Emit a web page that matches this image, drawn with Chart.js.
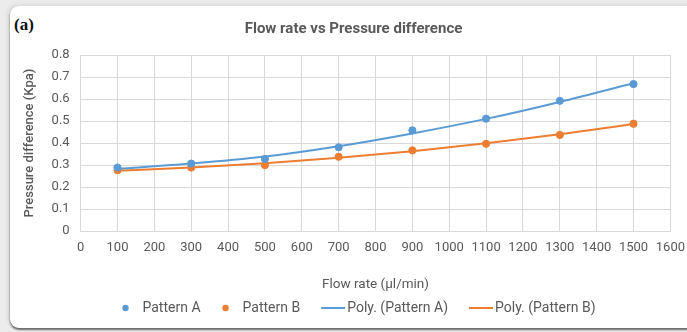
<!DOCTYPE html>
<html>
<head>
<meta charset="utf-8">
<script src="https://cdn.jsdelivr.net/npm/chart.js@4"></script>
<style>
  html, body { margin: 0; padding: 0; background: #ececec; }
  body { width: 687px; height: 332px; position: relative; overflow: hidden; }
  #card {
    position: absolute; left: 10px; top: 6px; width: 700px; height: 322px;
    background: #ffffff; border-radius: 9px;
    box-shadow: -2px -1px 4px rgba(0,0,0,0.10), 0 2px 2px rgba(0,0,0,0.55);
  }
  #tag {
    position: absolute; left: 14px; top: 15px;
    font-family: "Liberation Serif", "DejaVu Serif", serif; font-weight: bold; font-size: 17px; color: #111;
  }
  #wrap { position: absolute; left: 0; top: 0; width: 687px; height: 332px; }
</style>
</head>
<body>
<div id="card"></div>
<div id="tag">(a)</div>
<div id="wrap"><canvas id="c" width="687" height="332"></canvas></div>
<script>
// Flow rate (µl/min) at which each pattern was measured
const flowRates = [100, 300, 500, 700, 900, 1100, 1300, 1500];
// Measured pressure difference (Kpa)
const patternA = [0.289, 0.307, 0.328, 0.381, 0.458, 0.511, 0.592, 0.668];
const patternB = [0.277, 0.289, 0.300, 0.338, 0.367, 0.397, 0.437, 0.488];
// Second-order polynomial trendlines at the same flow rates
const polyA = [0.283, 0.307, 0.339, 0.386, 0.444, 0.510, 0.587, 0.672];
const polyB = [0.275, 0.289, 0.308, 0.333, 0.363, 0.399, 0.440, 0.487];

const xTicks = [0, 100, 200, 300, 400, 500, 600, 700, 800, 900, 1000, 1100, 1200, 1300, 1400, 1500, 1600];
const yTicks = [0, 0.1, 0.2, 0.3, 0.4, 0.5, 0.6, 0.7, 0.8];

const BLUE = '#5b9bd5';
const ORANGE = '#ed7d31';
const TEXT = '#595959';
const GRID = '#d9d9d9';
const FONT = 'Roboto, "Open Sans", sans-serif';

const pts = (ys) => flowRates.map((x, i) => ({ x, y: ys[i] }));

// Legend row under the axis title: round dots for the measured series,
// short strokes for the trendlines, laid out from the measured text widths.
const keyRow = {
  id: 'keyRow',
  afterDraw(chart) {
    const ctx = chart.ctx;
    const items = chart.data.datasets.map(ds => ({ text: ds.label, color: ds.borderColor, line: ds.showLine }));
    ctx.save();
    ctx.font = '14px ' + FONT;
    ctx.textBaseline = 'middle';
    const markW = (it) => (it.line ? 24 + 2 : 8 + 13);
    const widths = items.map(it => markW(it) + ctx.measureText(it.text).width);
    const gap = 21;
    const total = widths.reduce((a, b) => a + b, 0) + gap * (items.length - 1);
    const centre = (chart.chartArea.left + chart.chartArea.right) / 2 - 17;
    let x = centre - total / 2;
    const y = chart.height - 24;
    items.forEach((it, i) => {
      if (it.line) {
        ctx.strokeStyle = it.color; ctx.lineWidth = 2;
        ctx.beginPath(); ctx.moveTo(x, y); ctx.lineTo(x + 24, y); ctx.stroke();
      } else {
        ctx.fillStyle = it.color;
        ctx.beginPath(); ctx.arc(x + 4, y, 3.2, 0, Math.PI * 2); ctx.fill();
      }
      ctx.fillStyle = TEXT;
      ctx.fillText(it.text, x + markW(it), y + 0.5);
      x += widths[i] + gap;
    });
    ctx.restore();
  }
};

new Chart(document.getElementById('c'), {
  type: 'scatter',
  data: {
    datasets: [
      { label: 'Pattern A', data: pts(patternA), showLine: false,
        backgroundColor: BLUE, borderColor: BLUE, pointRadius: 3.6, pointHoverRadius: 3.6,
        pointStyle: 'circle', order: 1 },
      { label: 'Pattern B', data: pts(patternB), showLine: false,
        backgroundColor: ORANGE, borderColor: ORANGE, pointRadius: 3.6, pointHoverRadius: 3.6,
        pointStyle: 'circle', order: 1 },
      { label: 'Poly. (Pattern A)', data: pts(polyA), showLine: true,
        borderColor: BLUE, backgroundColor: BLUE, borderWidth: 2, pointRadius: 0,
        cubicInterpolationMode: 'monotone', order: 2 },
      { label: 'Poly. (Pattern B)', data: pts(polyB), showLine: true,
        borderColor: ORANGE, backgroundColor: ORANGE, borderWidth: 2, pointRadius: 0,
        cubicInterpolationMode: 'monotone', order: 2 }
    ]
  },
  plugins: [keyRow],
  options: {
    responsive: false,
    animation: false,
    layout: { padding: { left: 22, right: 2, top: 16, bottom: 39 } },
    plugins: {
      tooltip: { enabled: false },
      legend: { display: false },
      title: {
        display: true, text: 'Flow rate vs Pressure difference', color: TEXT,
        font: { family: FONT, size: 15, weight: 'bold' }, padding: { top: 4, bottom: 17 }
      }
    },
    scales: {
      x: {
        type: 'linear', min: 0, max: 1600,
        afterBuildTicks(axis) { axis.ticks = xTicks.map(v => ({ value: v })); },
        ticks: { color: TEXT, font: { family: FONT, size: 13 }, maxRotation: 0, autoSkip: false, padding: 2,
          callback: (v) => String(v) },
        grid: { color: GRID, drawTicks: true, tickLength: 7, tickColor: 'rgba(0,0,0,0)', lineWidth: 1 },
        border: { color: GRID },
        title: { display: true, text: 'Flow rate (µl/min)', color: TEXT,
          font: { family: FONT, size: 13.5 }, padding: { top: 19, bottom: 0 } }
      },
      y: {
        type: 'linear', min: 0, max: 0.8,
        afterBuildTicks(axis) { axis.ticks = yTicks.map(v => ({ value: v })); },
        ticks: { color: TEXT, font: { family: FONT, size: 13 }, padding: 11,
          callback: (v) => (v === 0 ? '0' : v.toFixed(1)) },
        grid: { color: GRID, drawTicks: false, lineWidth: 1 },
        border: { color: GRID },
        title: { display: true, text: 'Pressure difference (Kpa)', color: TEXT,
          font: { family: FONT, size: 13, weight: '500' }, padding: { top: 0, bottom: 3 } }
      }
    }
  }
});
</script>
</body>
</html>
